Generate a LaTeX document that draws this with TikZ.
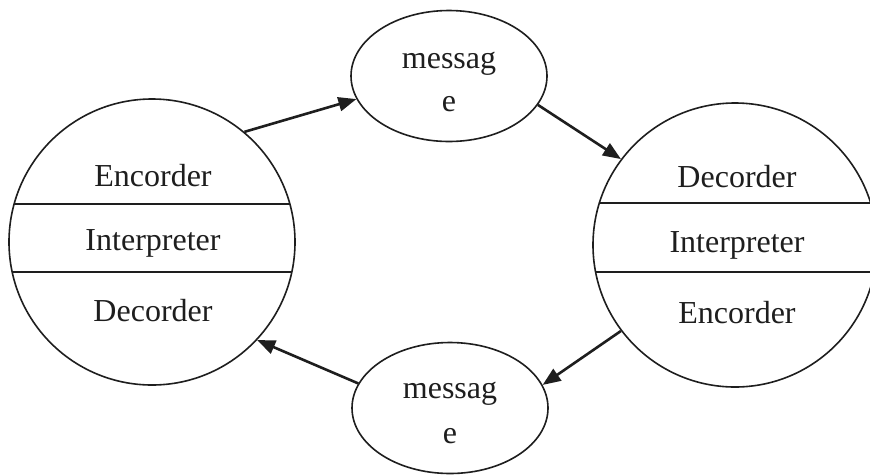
\documentclass[tikz,border=0pt]{standalone}
\usepackage{fontspec}
\setmainfont{Liberation Serif}
\usetikzlibrary{shapes.geometric,arrows.meta}
\definecolor{ink}{HTML}{1E1E1E}
\tikzset{
  big/.style={circle,draw=ink,line width=1.6pt,minimum size=#1,inner sep=0pt},
  msg/.style={ellipse,draw=ink,line width=1.6pt,minimum width=196pt,minimum height=131pt,inner sep=0pt},
  lbl/.style={text=ink,font=\fontsize{32}{42}\selectfont,inner sep=0pt,anchor=center},
  divider/.style={draw=ink,line width=2pt},
  flow/.style={draw=ink,line width=2.6pt,-{Triangle[length=18pt,width=14pt]}},
}
\begin{document}
\begin{tikzpicture}[x=1pt,y=-1pt]
\useasboundingbox (0,0) rectangle (870,475);
\fill[white] (0,0) rectangle (870,475);
% left circle
\node[big=286pt] (L) at (152,242) {};
\begin{scope}
\clip (152,242) circle (143);
\draw[divider] (0,204) -- (300,204);
\draw[divider] (0,272) -- (300,272);
\end{scope}
\node[lbl] (L1) at (153,176) {Encorder};
\node[lbl] (L2) at (153,243) {Interpreter};
\node[lbl] (L3) at (153,311) {Decorder};
% right circle
\node[big=284pt] (R) at (735,245) {};
\begin{scope}
\clip (735,245) circle (142);
\draw[divider] (590,203) -- (880,203);
\draw[divider] (590,272) -- (880,272);
\end{scope}
\node[lbl] (R1) at (737,177) {Decorder};
\node[lbl] (R2) at (737,245) {Interpreter};
\node[lbl] (R3) at (737,313) {Encorder};
% message ellipses
\node[msg] (T) at (449,76) {};
\node[lbl] (T1) at (449,64) {messag};
\node[lbl] (T2) at (449,104) {e};
\node[msg] (B) at (450,408) {};
\node[lbl] (B1) at (450,394) {messag};
\node[lbl] (B2) at (450,436) {e};
% arrows
\draw[flow] (L.50.7) -- (T.194);
\draw[flow] (T.-18) -- (R.143);
\draw[flow] (R.217.8) -- (B.14);
\draw[flow] (B.165) -- (L.317);
\end{tikzpicture}
\end{document}
